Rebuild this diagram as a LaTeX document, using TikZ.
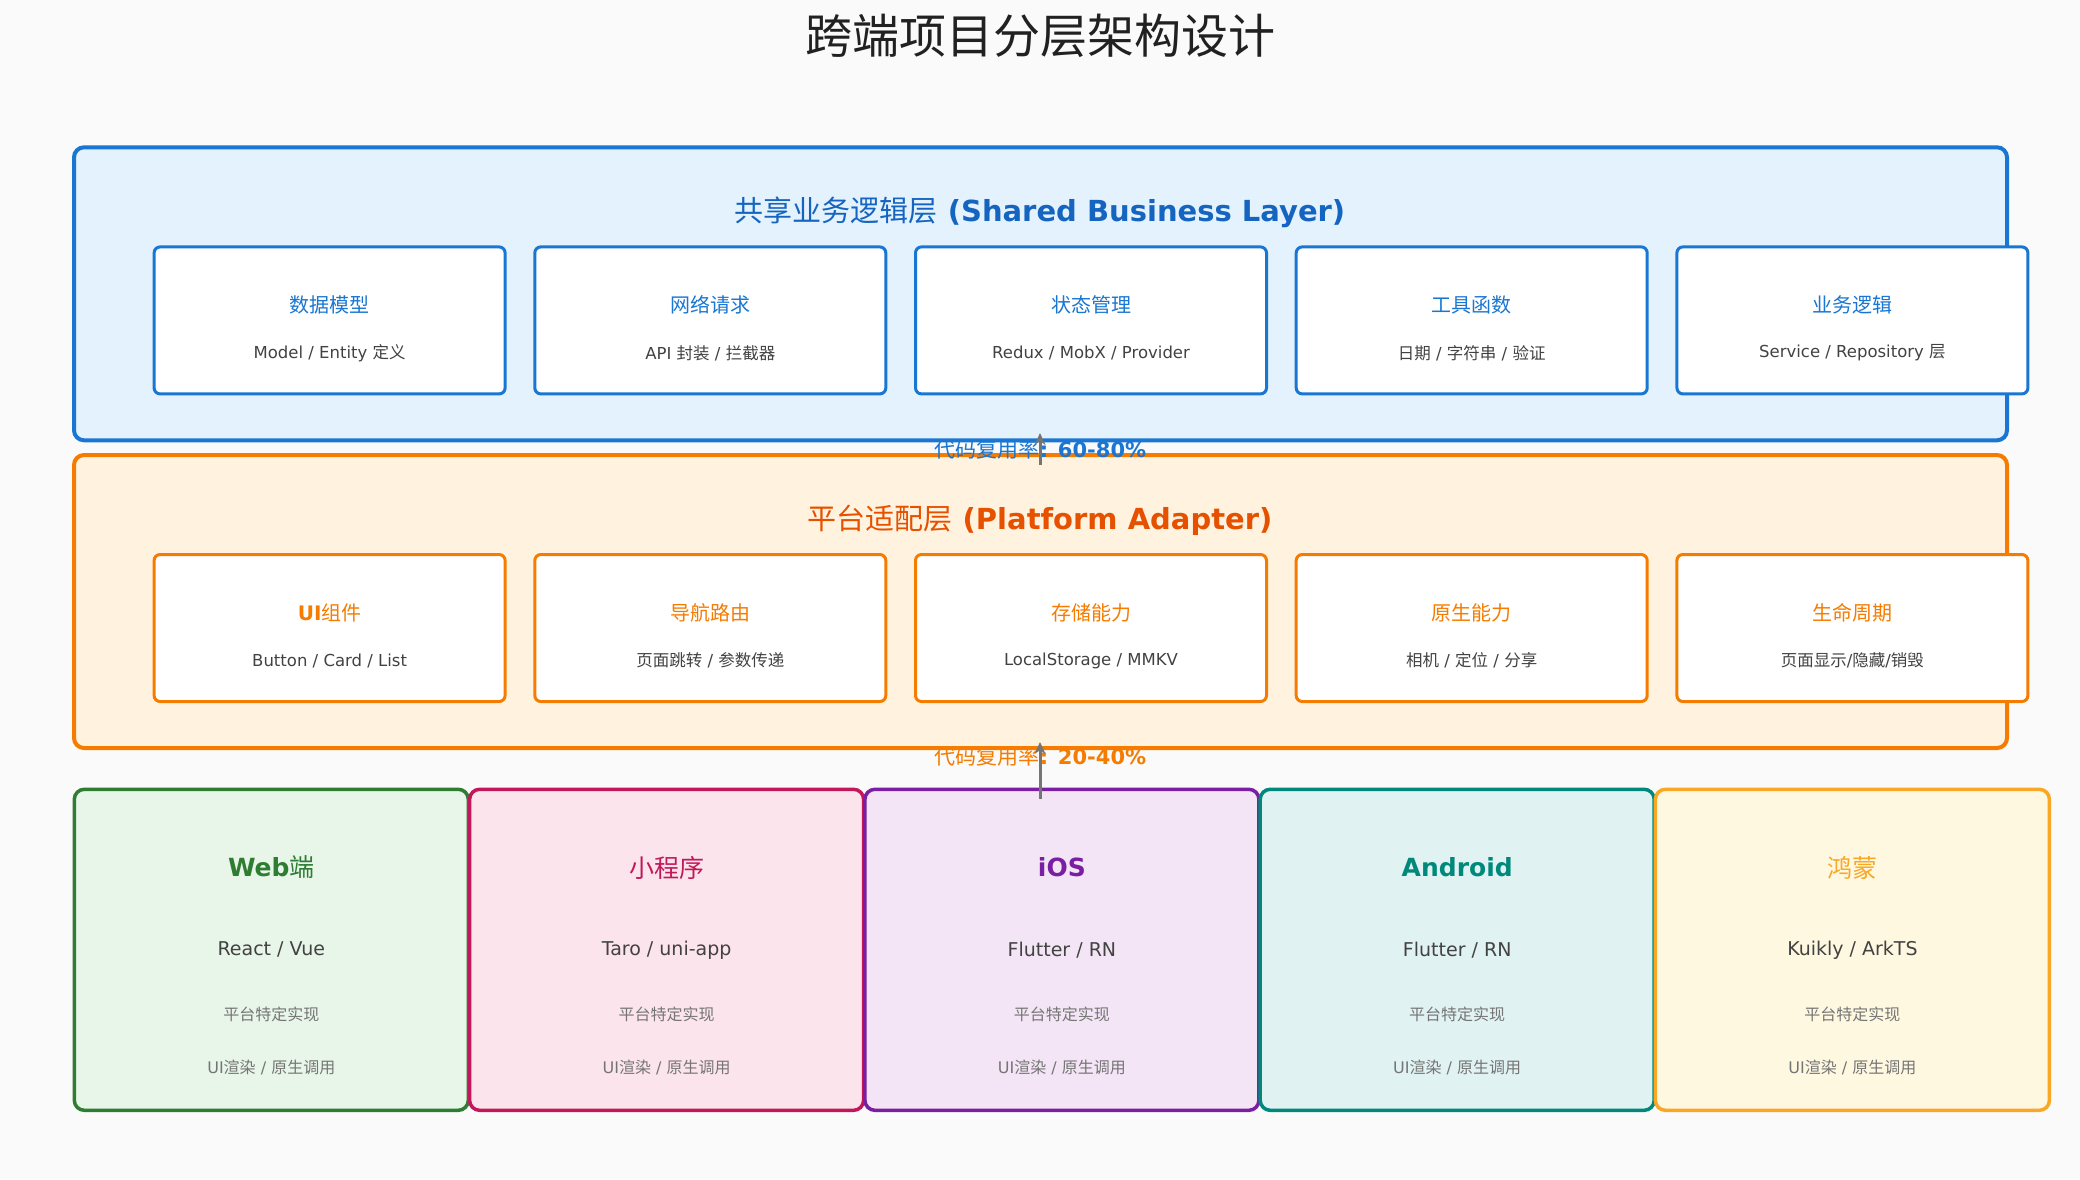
\documentclass[tikz,border=0pt]{standalone}
\usepackage{fontspec}
\setmainfont{DejaVu Sans}
\newfontfamily\cjk[BoldFont={Noto Sans CJK SC}]{Noto Sans CJK SC}
\usetikzlibrary{arrows.meta}
\newcommand\zh[1]{{\cjk\mdseries #1}}
\definecolor{bg}{HTML}{FAFAFA}
\definecolor{blueB}{HTML}{1976D2}
\definecolor{blueF}{HTML}{E3F2FD}
\definecolor{blueT}{HTML}{1565C0}
\definecolor{orB}{HTML}{F57C00}
\definecolor{orF}{HTML}{FFF3E0}
\definecolor{orT}{HTML}{E65100}
\definecolor{grB}{HTML}{2E7D32}
\definecolor{grF}{HTML}{E8F5E9}
\definecolor{piB}{HTML}{C2185B}
\definecolor{piF}{HTML}{FCE4EC}
\definecolor{puB}{HTML}{7B1FA2}
\definecolor{puF}{HTML}{F3E5F5}
\definecolor{teB}{HTML}{00897B}
\definecolor{teF}{HTML}{E0F2F1}
\definecolor{amB}{HTML}{F9A825}
\definecolor{amF}{HTML}{FFF8E1}
\definecolor{darktxt}{HTML}{424242}
\definecolor{graytxt}{HTML}{757575}
\definecolor{titletxt}{HTML}{212121}
\tikzset{
  layer/.style={draw, line width=4pt, rounded corners=10pt, minimum width=1933pt, minimum height=293pt, inner sep=0},
  card/.style={draw, fill=white, line width=3pt, rounded corners=6pt, minimum width=351pt, minimum height=147pt, inner sep=0},
  plat/.style={draw, line width=3.5pt, rounded corners=10pt, minimum width=394pt, minimum height=321pt, inner sep=0},
  txt/.style={inner sep=0, anchor=center},
  ctitle/.style={txt, font=\fontsize{20}{24}\selectfont},
  csub/.style={txt, font=\fontsize{16.5}{20}\selectfont, text=darktxt},
  ptitle/.style={txt, font=\fontsize{25}{30}\selectfont\bfseries},
  psub/.style={txt, font=\fontsize{19}{23}\selectfont, text=darktxt},
  pline/.style={txt, font=\fontsize{16}{20}\selectfont, text=graytxt},
  reuse/.style={txt, font=\fontsize{21}{25}\selectfont\bfseries},
  uparrow/.style={draw=graytxt, line width=3pt, -{Stealth[length=12pt,width=11pt]}},
}
\begin{document}
\begin{tikzpicture}[x=1pt,y=-1pt]
\fill[bg] (0,0) rectangle (2080,1179);
\useasboundingbox (0,0) rectangle (2080,1179);

% title
\node[txt, font=\fontsize{47}{56}\selectfont, text=titletxt] (title) at (1040,36) {\zh{跨端项目分层架构设计}};

% shared layer
\node[layer, draw=blueB, fill=blueF] (shared) at (1040.5,293.8) {};
\node[txt, font=\fontsize{29}{34}\selectfont\bfseries, text=blueT] (sharedT) at (1040,212) {\zh{共享业务逻辑层} (Shared Business Layer)};

\foreach \i/\x/\t/\s in {1/329.6/\zh{数据模型}/{Model / Entity \zh{定义}},
                         2/710.3/\zh{网络请求}/{API \zh{封装} / \zh{拦截器}},
                         3/1091/\zh{状态管理}/{Redux / MobX / Provider},
                         4/1471.7/\zh{工具函数}/{\zh{日期} / \zh{字符串} / \zh{验证}},
                         5/1852.4/\zh{业务逻辑}/{Service / Repository \zh{层}}}{
  \node[card, draw=blueB] (s\i) at (\x,320.4) {};
  \node[ctitle, text=blueB] (s\i t) at (\x,305) {\t};
  \node[csub] (s\i s) at (\x,353) {\s};
}

% platform layer
\node[layer, draw=orB, fill=orF] (platform) at (1040.5,601.5) {};
\node[txt, font=\fontsize{29}{34}\selectfont\bfseries, text=orT] (platT) at (1040,520) {\zh{平台适配层} (Platform Adapter)};

\foreach \i/\x/\t/\s in {1/329.6/{\textbf{UI}\zh{组件}}/{Button / Card / List},
                         2/710.3/\zh{导航路由}/{\zh{页面跳转} / \zh{参数传递}},
                         3/1091/\zh{存储能力}/{LocalStorage / MMKV},
                         4/1471.7/\zh{原生能力}/{\zh{相机} / \zh{定位} / \zh{分享}},
                         5/1852.4/\zh{生命周期}/{\zh{页面显示}/\zh{隐藏}/\zh{销毁}}}{
  \node[card, draw=orB] (p\i) at (\x,628) {};
  \node[ctitle, text=orB] (p\i t) at (\x,613) {\t};
  \node[csub] (p\i s) at (\x,660.6) {\s};
}

% platforms
\foreach \i/\x/\bc/\fc/\t/\s in {1/271.3/grB/grF/{Web\zh{端}}/{React / Vue},
                                 2/666.6/piB/piF/{\zh{小程序}}/{Taro / uni-app},
                                 3/1061.9/puB/puF/{iOS}/{Flutter / RN},
                                 4/1457.2/teB/teF/{Android}/{Flutter / RN},
                                 5/1852.4/amB/amF/{\zh{鸿蒙}}/{Kuikly / ArkTS}}{
  \node[plat, draw=\bc, fill=\fc] (e\i) at (\x,949.8) {};
  \node[ptitle, text=\bc] (e\i t) at (\x,867.5) {\t};
  \node[psub] (e\i s) at (\x,949.8) {\s};
  \node[pline] (e\i a) at (\x,1014.8) {\zh{平台特定实现}};
  \node[pline] (e\i b) at (\x,1067.8) {UI\zh{渲染} / \zh{原生调用}};
}

% reuse labels
\node[reuse, text=blueB] (r1) at (1040.5,449) {\zh{代码复用率}: 60-80\%};
\node[reuse, text=orB] (r2) at (1040.5,756) {\zh{代码复用率}: 20-40\%};

% arrows
\coordinate (a1s) at (1040,465);
\coordinate (a1e) at (1040,433);
\coordinate (a2s) at (1040,799);
\coordinate (a2e) at (1040,742);
\draw[uparrow] (a1s) -- (a1e);
\draw[uparrow] (a2s) -- (a2e);
\end{tikzpicture}
\end{document}
